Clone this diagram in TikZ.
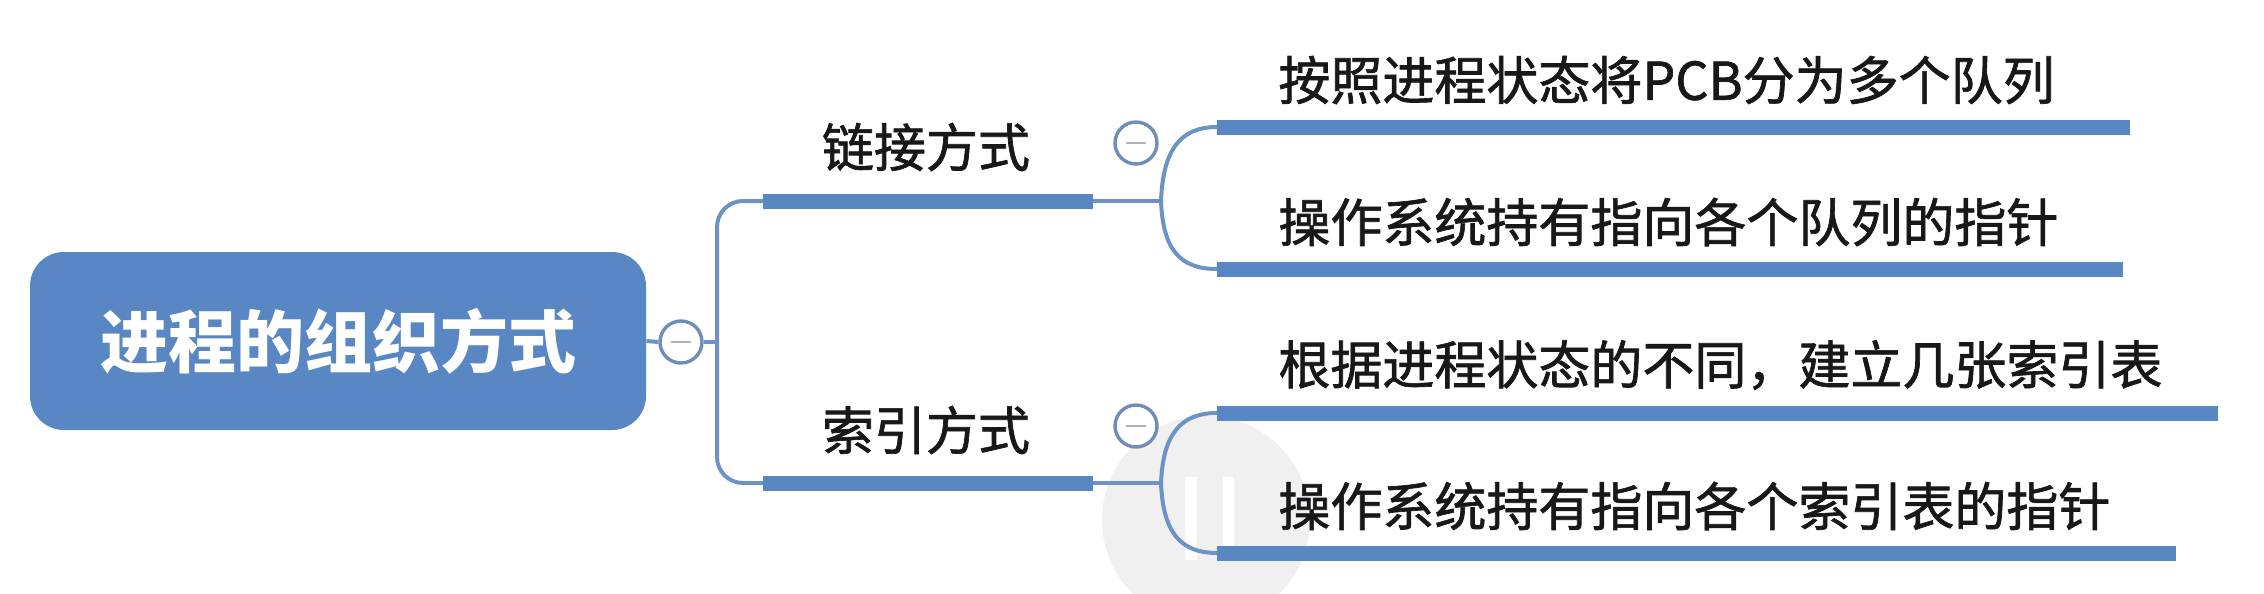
\documentclass[tikz,border=0pt]{standalone}
\usepackage{fontspec}
\newfontfamily\cjk{Noto Sans CJK SC}
\newfontfamily\cjkm[FakeBold=1.3]{Noto Sans CJK SC}
\definecolor{mblue}{RGB}{88,135,196}
\definecolor{lblue}{RGB}{108,146,198}
\definecolor{cblue}{RGB}{112,140,184}
\definecolor{tblack}{RGB}{24,24,26}
\definecolor{ovl}{RGB}{240,240,241}
\begin{document}
\begin{tikzpicture}[x=0.5pt,y=-0.5pt,
  thinln/.style={draw=lblue,line width=2pt},
  barln/.style={draw=mblue,line width=7.5pt},
  toggle/.style={circle,draw=cblue,line width=1.7pt,fill=white,minimum size=21pt,inner sep=0pt},
  minus/.style={draw=gray!60,line width=1.4pt},
  lbl/.style={font=\cjkm\fontsize{26pt}{30pt}\selectfont,text=tblack,inner sep=0pt},
  sub/.style={lbl,anchor=west},
  rootbox/.style={rectangle,rounded corners=17pt,fill=mblue,minimum width=308pt,minimum height=89pt,
    text=white,font=\cjk\bfseries\fontsize{34pt}{40pt}\selectfont,inner sep=0pt}]
\useasboundingbox (0,0) rectangle (2264,594);
% video overlay (background)
\fill[ovl] (1206,520) circle (52pt);
\fill[white] (1185,477) rectangle (1197,560);
\fill[white] (1223,477) rectangle (1234,560);
% nodes
\node[rootbox] (root) at (338,341) {进程的组织方式};
\node[toggle] (c0) at (681,342) {};
\node[lbl] (l1) at (926,147) {链接方式};
\node[lbl] (l2) at (926,430) {索引方式};
\node[toggle] (c1) at (1136,143) {};
\node[toggle] (c2) at (1136,426) {};
\node[sub] (t1) at (1278,80) {按照进程状态将PCB分为多个队列};
\node[sub] (t2) at (1278,222) {操作系统持有指向各个队列的指针};
\node[sub] (t3) at (1278,365) {根据进程状态的不同，建立几张索引表};
\node[sub] (t4) at (1278,506) {操作系统持有指向各个索引表的指针};
% coordinates
\coordinate (trunk) at (717,342);
\coordinate (b1s) at (763,201);
\coordinate (b1e) at (1093,201);
\coordinate (j1) at (1161,201);
\coordinate (b2s) at (763,483);
\coordinate (b2e) at (1093,483);
\coordinate (j2) at (1161,483);
\coordinate (s1s) at (1217,127);
\coordinate (s1e) at (2130,127);
\coordinate (s2s) at (1217,269);
\coordinate (s2e) at (2123,269);
\coordinate (s3s) at (1217,413);
\coordinate (s3e) at (2218,413);
\coordinate (s4s) at (1217,553);
\coordinate (s4e) at (2176,553);
% connectors
\draw[thinln] (root.east) -- (c0.west);
\draw[thinln] (c0.east) -- (trunk);
\draw[thinln,rounded corners=13pt] (b1s) -| (trunk) |- (b2s);
\draw[barln] (b1s) -- (b1e);
\draw[barln] (b2s) -- (b2e);
\draw[thinln] (b1e) -- (j1);
\draw[thinln] (b2e) -- (j2);
\draw[thinln] (j1) .. controls (1163,150) and (1180,127) .. (s1s);
\draw[thinln] (j1) .. controls (1163,250) and (1180,269) .. (s2s);
\draw[thinln] (j2) .. controls (1163,435) and (1180,413) .. (s3s);
\draw[thinln] (j2) .. controls (1163,532) and (1180,553) .. (s4s);
\draw[barln] (s1s) -- (s1e);
\draw[barln] (s2s) -- (s2e);
\draw[barln] (s3s) -- (s3e);
\draw[barln] (s4s) -- (s4e);
% minus signs
\draw[minus] ([xshift=-5pt]c0.center) -- ([xshift=5pt]c0.center);
\draw[minus] ([xshift=-5pt]c1.center) -- ([xshift=5pt]c1.center);
\draw[minus] ([xshift=-5pt]c2.center) -- ([xshift=5pt]c2.center);
\end{tikzpicture}
\end{document}
